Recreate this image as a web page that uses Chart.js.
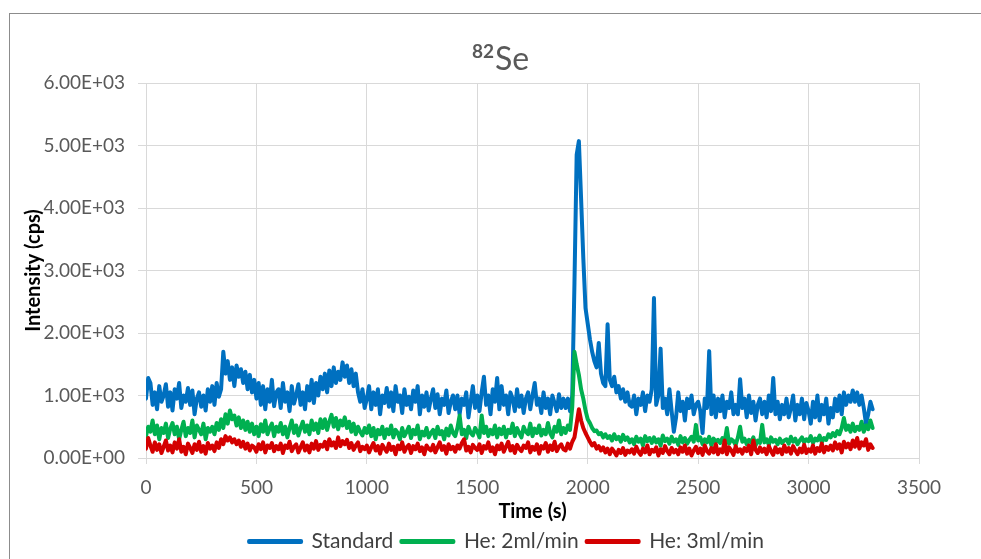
<!DOCTYPE html>
<html>
<head>
<meta charset="utf-8">
<title>82Se</title>
<script src="https://cdn.jsdelivr.net/npm/chart.js@4.4.1/dist/chart.umd.min.js"></script>
<style>
  html, body { margin: 0; padding: 0; background: #fff; }
  #wrap { position: relative; width: 981px; height: 559px; }
</style>
</head>
<body>
<div id="wrap"><canvas id="seChart"></canvas></div>
<script>
// sampling interval of the series below (s)
const timeStep = 10;

const seriesNames = ['Standard', 'He: 2ml/min', 'He: 3ml/min'];

// intensities (cps), one value every 10 s from t = 0
const standard = [
  950,1280,1200,850,1050,780,1150,900,1000,1180,
  820,1050,760,1100,950,1200,800,1000,900,1120,
  850,1080,700,950,1050,820,1000,760,1100,900,
  1150,850,1200,980,1100,1700,1350,1550,1250,1450,
  1150,1480,1300,1420,1200,1380,1100,1330,1050,1250,
  950,1200,850,1150,780,1100,900,1250,830,1050,
  1100,800,1200,900,1050,750,1150,870,1000,1180,
  850,1050,780,1150,920,1250,880,1200,1000,1300,
  1100,1350,1050,1400,1150,1450,1200,1380,1250,1530,
  1300,1480,1200,1420,1150,1350,1050,900,1100,800,
  950,1150,780,1050,850,1100,700,1000,880,1120,
  820,1050,750,1150,900,1000,720,1100,850,980,
  780,1080,900,1150,700,1000,820,1050,760,950,
  1100,800,1020,700,950,850,1080,720,900,1000,
  780,1000,700,950,850,1050,650,900,1150,800,
  1000,750,1050,1300,850,1000,700,1100,900,1280,
  780,1150,850,1000,700,1050,950,750,1100,820,
  1000,720,950,1050,780,1000,1200,850,950,720,
  1050,800,950,700,1000,880,750,1020,800,950,
  800,950,750,1000,2800,4850,5070,4150,3200,2400,
  2150,1900,1700,1550,1450,1840,1350,1200,1150,2140,
  1250,1150,1300,1050,1150,950,1100,900,1050,850,
  820,1000,700,950,850,1050,750,1000,900,1100,
  2560,850,1000,1750,800,950,700,1100,750,420,
  650,1050,750,900,600,950,800,1000,700,850,
  900,750,400,950,800,1710,700,1000,650,950,
  750,1000,650,900,800,1050,700,850,700,1260,
  800,950,650,1000,720,900,600,850,950,700,
  900,650,1000,750,1280,700,900,620,850,700,
  950,650,800,1000,600,850,700,950,620,880,
  750,550,900,650,1000,600,850,700,950,550,
  800,650,950,750,1000,700,1050,850,1000,900,
  1080,900,1050,850,1000,800,550,700,900,780
];

const he2 = [
  350,500,420,600,380,520,300,480,400,550,
  320,470,560,380,500,300,450,580,350,480,
  400,600,330,520,450,380,550,300,480,420,
  500,380,560,450,620,480,700,550,760,620,
  680,520,650,480,600,450,580,420,550,380,
  500,350,540,420,600,380,480,550,350,500,
  420,560,380,500,330,480,600,400,520,360,
  480,580,420,520,380,600,450,550,400,620,
  480,620,450,580,690,500,640,460,600,520,
  650,480,580,420,550,380,500,420,360,480,
  400,520,350,480,300,450,380,500,320,460,
  380,520,330,450,400,300,480,350,420,500,
  320,450,380,520,300,420,360,480,330,400,
  450,320,500,380,430,300,470,360,520,400,
  350,480,680,380,450,320,500,400,360,480,
  420,330,680,400,500,350,450,380,520,330,
  470,380,500,330,450,400,550,350,480,400,
  330,500,420,380,550,350,470,400,520,360,
  450,380,560,400,330,500,420,600,380,480,
  400,520,450,820,1700,1500,1330,1100,950,760,
  620,560,480,430,440,380,400,330,380,320,
  350,280,380,300,340,260,370,290,330,250,
  300,220,340,260,310,200,350,270,320,240,
  330,250,300,200,360,270,310,230,340,260,
  300,210,350,250,320,230,290,340,260,530,
  280,330,220,300,250,340,200,310,260,290,
  240,320,260,480,230,300,270,210,330,500,
  260,310,220,290,250,330,200,280,240,530,
  250,300,210,330,260,290,220,310,240,280,
  300,230,340,260,310,220,280,330,250,300,
  270,350,240,310,280,360,250,320,290,380,
  330,400,350,430,380,480,640,450,520,420,
  550,430,500,450,580,420,520,460,600,480
];

const he3 = [
  150,320,200,100,250,130,220,80,180,280,
  120,200,90,250,150,300,100,180,60,230,
  160,80,220,130,260,100,190,70,240,150,
  200,110,250,160,300,220,350,280,330,250,
  300,220,280,180,260,150,230,120,200,170,
  100,220,140,250,90,200,160,240,110,190,
  140,230,80,200,160,260,110,180,220,90,
  170,250,120,200,90,230,150,270,130,210,
  180,260,140,300,200,250,160,330,190,270,
  220,290,160,240,130,200,250,110,180,140,
  200,90,170,240,120,190,70,210,150,100,
  230,130,180,60,200,140,250,100,170,210,
  80,190,140,230,110,170,60,200,150,120,
  210,90,170,250,130,190,70,220,140,180,
  100,200,150,240,300,120,180,90,210,160,
  130,220,80,190,150,250,110,170,60,200,
  140,230,100,180,260,120,190,80,210,150,
  110,200,160,250,90,180,130,220,70,190,
  150,240,100,200,130,260,110,180,220,140,
  120,230,150,260,330,550,780,600,480,400,
  330,260,200,240,150,190,120,170,90,150,
  60,150,100,40,130,80,160,50,120,90,
  140,70,180,100,50,150,90,200,60,130,
  100,170,40,140,80,190,110,60,160,90,
  130,60,170,100,200,70,150,40,120,180,
  80,150,50,200,110,70,160,90,220,60,
  140,90,280,60,170,120,50,190,100,140,
  70,160,110,200,60,280,130,80,170,100,
  150,60,190,110,50,170,90,140,60,200,
  100,160,70,190,120,60,150,90,210,80,
  140,100,200,70,160,110,230,90,180,130,
  200,120,250,150,220,90,260,170,230,140,
  280,180,320,150,250,200,300,130,220,160
];

const times = standard.map((_, i) => i * timeStep);

const colors = ['#0070C0', '#00B050', '#D40000'];

function sciLabel(v) {
  const parts = Number(v).toExponential(2).split('e');
  const exp = parseInt(parts[1], 10);
  return parts[0] + 'E' + (exp < 0 ? '-' : '+') + String(Math.abs(exp)).padStart(2, '0');
}

function toPoints(values) {
  return values.map((v, i) => ({ x: times[i], y: v }));
}

Chart.defaults.font.family = 'Lato, "Open Sans", sans-serif';

// white background + outer chart frame
const framePlugin = {
  id: 'frame',
  beforeDraw(chart) {
    const c = chart.ctx;
    c.save();
    c.fillStyle = '#ffffff';
    c.fillRect(0, 0, chart.width, chart.height);
    c.strokeStyle = '#8c8c8c';
    c.lineWidth = 1;
    c.strokeRect(9.5, 13.5, chart.width + 20, chart.height + 20);
    c.restore();
  }
};

// title with superscript mass number
const titlePlugin = {
  id: 'isoTitle',
  afterDraw(chart) {
    const c = chart.ctx;
    c.save();
    c.fillStyle = '#595959';
    c.textBaseline = 'alphabetic';
    c.font = 'bold 19px Lato';
    const w1 = c.measureText('82').width;
    c.font = '32px Lato';
    const w2 = c.measureText('Se').width;
    const x0 = 500 - (w1 + w2) / 2;
    c.font = 'bold 19px Lato';
    c.fillText('82', x0, 58);
    c.font = '32px Lato';
    c.fillText('Se', x0 + w1 + 1, 70);
    c.restore();
  }
};

// the legend in the original is centred on the whole chart box, not the plot
const legendShift = {
  id: 'legendShift',
  afterLayout(chart) {
    chart.legend.left += 47;
    chart.legend.right += 47;
    chart.legend.top += 3;
    chart.legend.bottom += 3;
  }
};

const ctx = document.getElementById('seChart').getContext('2d');

const seChart = new Chart(ctx, {
  type: 'line',
  data: {
    datasets: [
      { label: seriesNames[0], data: toPoints(standard), borderColor: colors[0], backgroundColor: colors[0], order: 2 },
      { label: seriesNames[1], data: toPoints(he2), borderColor: colors[1], backgroundColor: colors[1], order: 1 },
      { label: seriesNames[2], data: toPoints(he3), borderColor: colors[2], backgroundColor: colors[2], order: 0 }
    ]
  },
  options: {
    responsive: true,
    maintainAspectRatio: false,
    animation: false,
    layout: { padding: { left: 0, right: 62, top: 83, bottom: 0 } },
    elements: {
      line: { borderWidth: 4, tension: 0, borderJoinStyle: 'round', borderCapStyle: 'round' },
      point: { radius: 0 }
    },
    plugins: {
      title: { display: false },
      tooltip: { enabled: false },
      legend: {
        position: 'bottom',
        labels: {
          boxWidth: 52,
          boxHeight: 1,
          padding: 8,
          color: '#404040',
          font: { size: 21 },
          sort: (a, b) => a.datasetIndex - b.datasetIndex
        }
      }
    },
    scales: {
      x: {
        type: 'linear',
        min: 0,
        max: 3500,
        ticks: { stepSize: 500, color: '#595959', font: { size: 19 }, padding: 12, maxRotation: 0, callback: v => String(v) },
        grid: { color: '#d9d9d9', lineWidth: 1, tickLength: 6 },
        border: { color: '#d9d9d9' },
        title: {
          display: true,
          text: 'Time (s)',
          color: '#000000',
          font: { size: 20, weight: 'bold', lineHeight: 0.8 },
          padding: { top: 0, bottom: 0 }
        },
        afterFit(scale) { scale.height = 62; }
      },
      y: {
        min: 0,
        max: 6000,
        ticks: { stepSize: 1000, color: '#595959', font: { size: 19 }, padding: 13, callback: v => sciLabel(v) },
        grid: { color: '#d9d9d9', lineWidth: 1, tickLength: 8 },
        border: { color: '#d9d9d9' },
        title: {
          display: true,
          text: 'Intensity (cps)',
          color: '#000000',
          font: { size: 20, weight: 'bold' },
          padding: { top: 22, bottom: 0 }
        },
        afterFit(scale) { scale.width = 146; }
      }
    }
  },
  plugins: [framePlugin, titlePlugin, legendShift]
});
</script>
</body>
</html>
